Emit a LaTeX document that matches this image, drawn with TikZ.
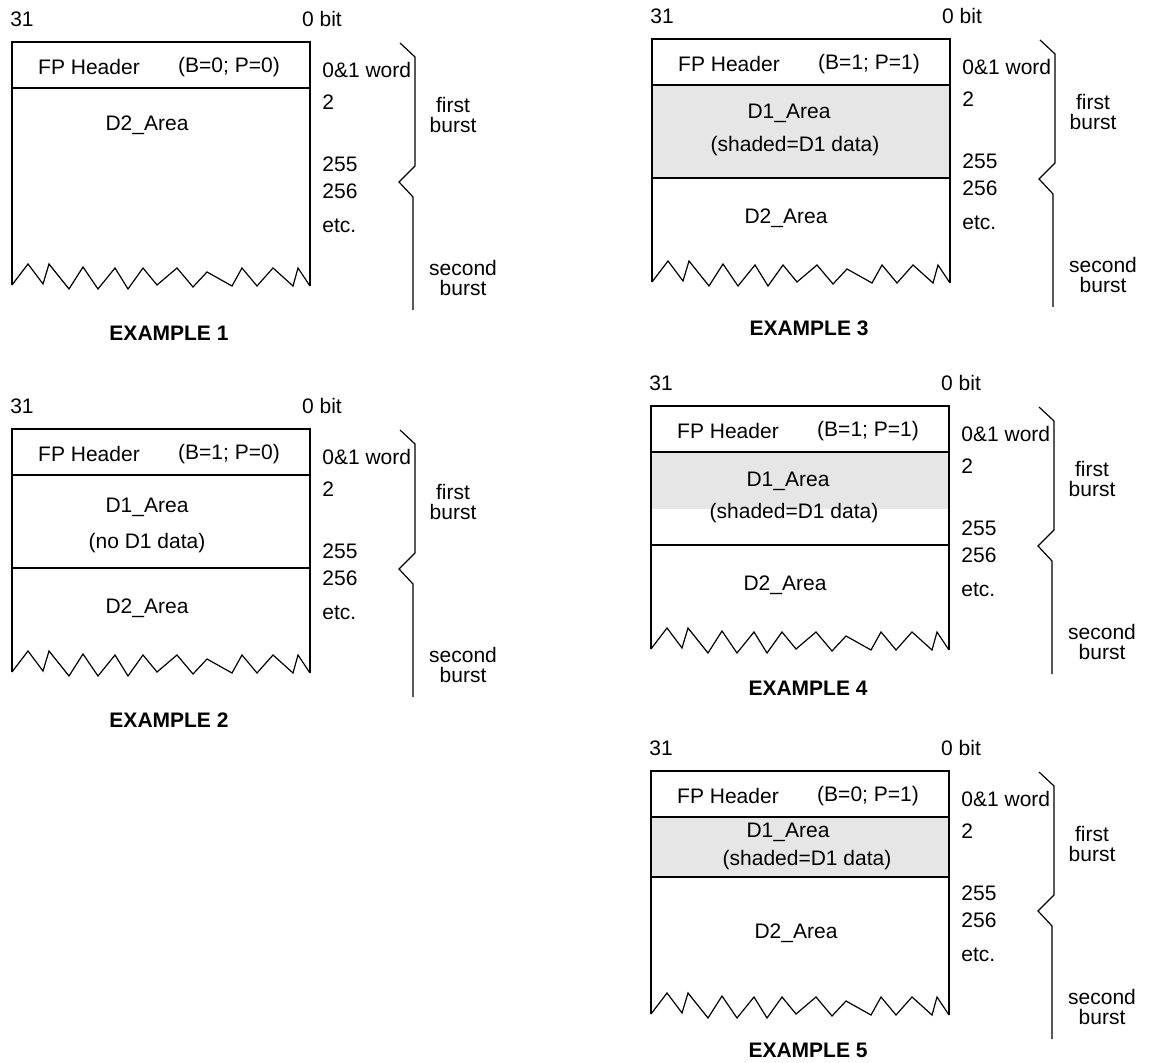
\documentclass[tikz,border=0pt]{standalone}
\usepackage{fontspec}
\setmainfont{Liberation Sans}
\usepackage{tikz}
\usetikzlibrary{positioning}
\definecolor{shadegray}{RGB}{230,230,230}

\begin{document}
\begin{tikzpicture}[
    x=0.5pt, y=-0.5pt,
    frame/.style={draw=black, line width=0.6pt},
    lbl/.style={font=\fontsize{10.5}{12.6}\selectfont, inner sep=0pt},
    word/.style={lbl, anchor=west},
    burst/.style={font=\fontsize{10.5}{10}\selectfont, inner sep=0pt, align=center},
    title/.style={font=\fontsize{10.5}{12.6}\selectfont\bfseries, inner sep=0pt},
    d1fill/.style={fill=shadegray, draw=none}
  ]
  \useasboundingbox (0,0) rectangle (1149,1063);

  % example 1
  \begin{scope}[shift={(12,42)}]
    \node[lbl] (d2a1) at (135,83) {D2\_Area};
  \end{scope}

  % example 2
  \begin{scope}[shift={(12,429)}]
    \draw[frame] (0,139) -- (298,139);
    \node[lbl] (d1a2) at (135,78) {D1\_Area};
    \node[lbl] (d1n2) at (135,114) {(no D1 data)};
    \node[lbl] (d2a2) at (135,179) {D2\_Area};
  \end{scope}

  % example 3
  \begin{scope}[shift={(652,39)}]
    \path[d1fill] (0,46) rectangle (298,139);
    \draw[frame] (0,139) -- (298,139);
    \node[lbl] (d1a3) at (137,74) {D1\_Area};
    \node[lbl] (d1s3) at (143,107) {(shaded=D1 data)};
    \node[lbl] (d2a3) at (134,179) {D2\_Area};
  \end{scope}

  % example 4
  \begin{scope}[shift={(651,406)}]
    \path[d1fill] (0,46) rectangle (298,103);
    \draw[frame] (0,139) -- (298,139);
    \node[lbl] (d1a4) at (137,75) {D1\_Area};
    \node[lbl] (d1s4) at (143,107) {(shaded=D1 data)};
    \node[lbl] (d2a4) at (134,179) {D2\_Area};
  \end{scope}

  % example 5
  \begin{scope}[shift={(651,771)}]
    \path[d1fill] (0,46) rectangle (298,106);
    \draw[frame] (0,106) -- (298,106);
    \node[lbl] (d1a5) at (137,61) {D1\_Area};
    \node[lbl] (d1s5) at (156,89) {(shaded=D1 data)};
    \node[lbl] (d2a5) at (145,162) {D2\_Area};
  \end{scope}

  % frame, bit numbers, word numbers and burst brace of every example
  \foreach \n/\ox/\oy/\bv/\pv/\ty in {1/12/42/0/0/291, 2/12/429/1/0/291,
      3/652/39/1/1/289, 4/651/406/1/1/282, 5/651/771/0/1/279} {
    \begin{scope}[shift={(\ox,\oy)}]
      \node[lbl] (msb\n) at (10,-23) {31};
      \node[lbl] (lsb\n) at (310,-23) {0 bit};
      \draw[frame] (0,243) -- (0,0) -- (298,0) -- (298,244);
      \draw[frame] (0,46) -- (298,46);
      \draw[frame] (0,243) -- (16,222) -- (31,242) -- (37,222) -- (57,247)
        -- (71,225) -- (86,247) -- (103,226) -- (116,247) -- (131,226)
        -- (145,243) -- (165,226) -- (181,245) -- (195,230) -- (220,244)
        -- (230,226) -- (245,244) -- (261,226) -- (281,244) -- (286,226)
        -- (298,244);
      \node[lbl] (fph\n) at (77,25) {FP Header};
      \node[lbl] (flag\n) at (217,25) {(B=\bv; P=\pv)};
      \node[word] (w0\n) at (310,28) {0\&1 word};
      \node[word] (w2\n) at (310,60) {2};
      \node[word] (w255\n) at (310,122) {255};
      \node[word] (w256\n) at (310,149) {256};
      \node[word] (wetc\n) at (310,184) {etc.};
      \draw[frame] (388,1) -- (403,15) -- (403,124) -- (387,140)
        -- (401,155) -- (401,268);
      \node[burst] (fb\n) at (441,73) {first\\burst};
      \node[burst] (sb\n) at (451,236) {second\\burst};
      \node[title] (ex\n) at (157,\ty) {EXAMPLE \n};
    \end{scope}
  }
\end{tikzpicture}
\end{document}
